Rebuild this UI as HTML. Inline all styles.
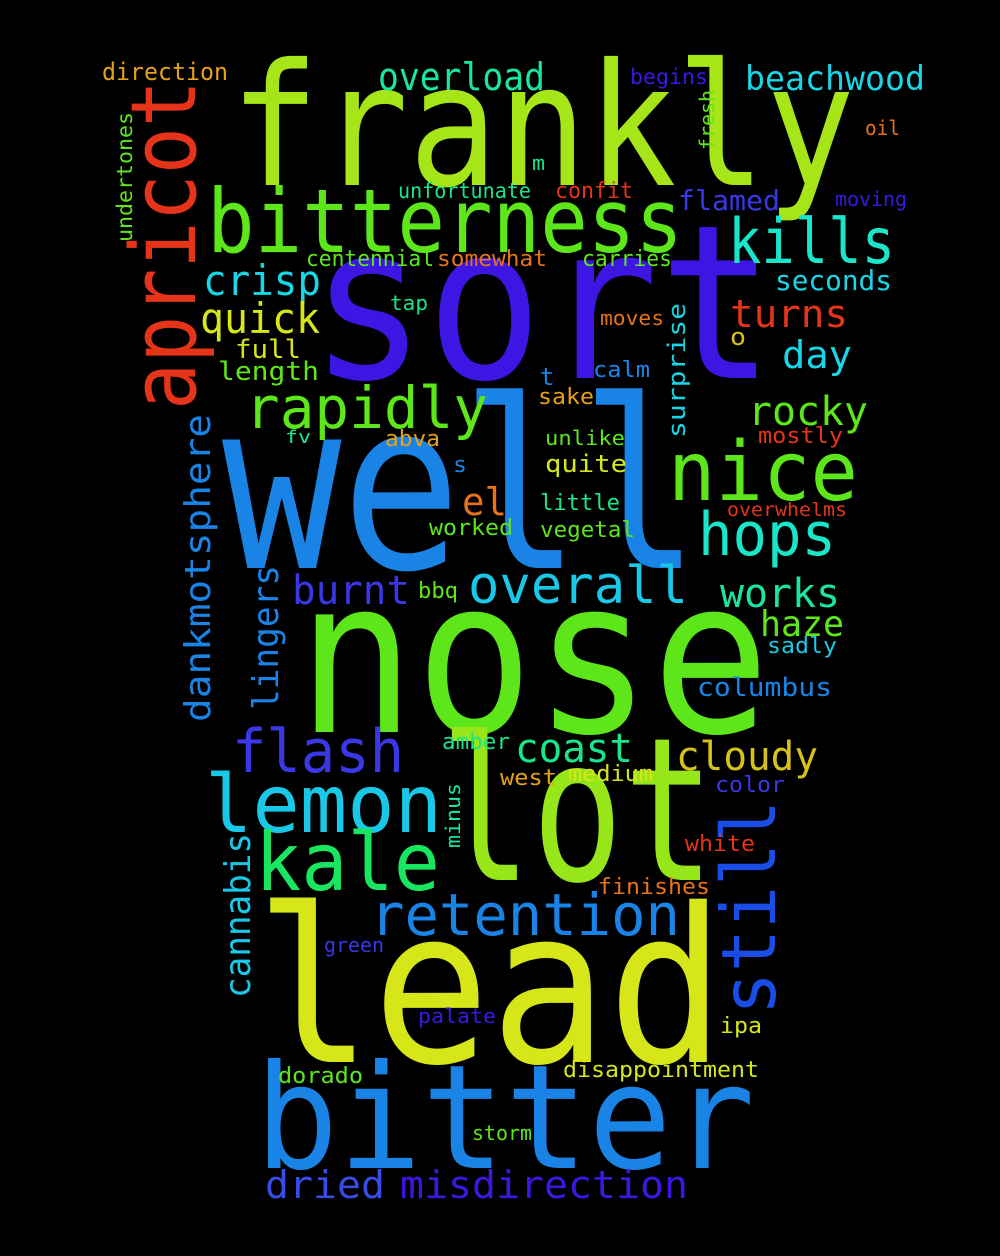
<!DOCTYPE html>
<html><head><meta charset="utf-8"><style>
html,body{margin:0;padding:0;background:#000;}
svg{display:block;}
text{font-family:"DejaVu Sans Mono","Liberation Mono",monospace;}
</style></head><body>
<svg width="1000" height="1256" viewBox="0 0 1000 1256" xmlns="http://www.w3.org/2000/svg">
<rect x="0" y="0" width="1000" height="1256" fill="#000"/>
<g lengthAdjust="spacingAndGlyphs">
<text x="230" y="185" font-size="170" textLength="625" lengthAdjust="spacingAndGlyphs" fill="#a6e619">frankly</text>
<text x="310" y="378" font-size="215" textLength="465" lengthAdjust="spacingAndGlyphs" fill="#3e16e4">sort</text>
<text x="222" y="568" font-size="235" textLength="478" lengthAdjust="spacingAndGlyphs" fill="#1a84e6">well</text>
<text x="297" y="732" font-size="215" textLength="473" lengthAdjust="spacingAndGlyphs" fill="#5de619">nose</text>
<text x="440" y="880" font-size="200" textLength="275" lengthAdjust="spacingAndGlyphs" fill="#96e619">lot</text>
<text x="255" y="1062" font-size="215" textLength="470" lengthAdjust="spacingAndGlyphs" fill="#d6e619">lead</text>
<text x="255" y="1168" font-size="145" textLength="500" lengthAdjust="spacingAndGlyphs" fill="#1a84e6">bitter</text>
<text x="207" y="252" font-size="88" textLength="476" lengthAdjust="spacingAndGlyphs" fill="#5de619">bitterness</text>
<text transform="translate(195,410) rotate(-90)" font-size="90" textLength="330" lengthAdjust="spacingAndGlyphs" fill="#e6341a">apricot</text>
<text x="378" y="90" font-size="38" textLength="167" lengthAdjust="spacingAndGlyphs" fill="#19e6a0">overload</text>
<text x="745" y="90" font-size="34" textLength="180" lengthAdjust="spacingAndGlyphs" fill="#19d6e6">beachwood</text>
<text x="102" y="80" font-size="24" textLength="126" lengthAdjust="spacingAndGlyphs" fill="#e6a019">direction</text>
<text x="630" y="84" font-size="21" textLength="78" lengthAdjust="spacingAndGlyphs" fill="#3e16e4">begins</text>
<text x="865" y="135" font-size="20" textLength="35" lengthAdjust="spacingAndGlyphs" fill="#e6721a">oil</text>
<text transform="translate(714,150) rotate(-90)" font-size="20" textLength="60" lengthAdjust="spacingAndGlyphs" fill="#5de619">fresh</text>
<text transform="translate(132,242) rotate(-90)" font-size="21" textLength="130" lengthAdjust="spacingAndGlyphs" fill="#5de619">undertones</text>
<text x="532" y="170" font-size="20" textLength="13" lengthAdjust="spacingAndGlyphs" fill="#19e68a">m</text>
<text x="398" y="198" font-size="21" textLength="133" lengthAdjust="spacingAndGlyphs" fill="#19e68a">unfortunate</text>
<text x="555" y="198" font-size="22" textLength="78" lengthAdjust="spacingAndGlyphs" fill="#e6341a">confit</text>
<text x="678" y="210" font-size="28" textLength="102" lengthAdjust="spacingAndGlyphs" fill="#3a38e6">flamed</text>
<text x="835" y="206" font-size="20" textLength="72" lengthAdjust="spacingAndGlyphs" fill="#3e16e4">moving</text>
<text x="728" y="263" font-size="62" textLength="167" lengthAdjust="spacingAndGlyphs" fill="#19e6c8">kills</text>
<text x="203" y="295" font-size="42" textLength="118" lengthAdjust="spacingAndGlyphs" fill="#19d6e6">crisp</text>
<text x="306" y="266" font-size="22" textLength="128" lengthAdjust="spacingAndGlyphs" fill="#5de619">centennial</text>
<text x="437" y="266" font-size="22" textLength="110" lengthAdjust="spacingAndGlyphs" fill="#e6721a">somewhat</text>
<text x="582" y="266" font-size="22" textLength="90" lengthAdjust="spacingAndGlyphs" fill="#5de619">carries</text>
<text x="775" y="290" font-size="28" textLength="117" lengthAdjust="spacingAndGlyphs" fill="#19d6e6">seconds</text>
<text x="200" y="333" font-size="42" textLength="120" lengthAdjust="spacingAndGlyphs" fill="#d6e619">quick</text>
<text x="390" y="310" font-size="20" textLength="38" lengthAdjust="spacingAndGlyphs" fill="#19e68a">tap</text>
<text x="600" y="325" font-size="20" textLength="64" lengthAdjust="spacingAndGlyphs" fill="#e6721a">moves</text>
<text x="730" y="327" font-size="38" textLength="118" lengthAdjust="spacingAndGlyphs" fill="#e6341a">turns</text>
<text transform="translate(685,438) rotate(-90)" font-size="24" textLength="135" lengthAdjust="spacingAndGlyphs" fill="#19d6e6">surprise</text>
<text x="730" y="345" font-size="24" textLength="16" lengthAdjust="spacingAndGlyphs" fill="#d6c219">o</text>
<text x="235" y="358" font-size="26" textLength="66" lengthAdjust="spacingAndGlyphs" fill="#d6e619">full</text>
<text x="782" y="368" font-size="38" textLength="70" lengthAdjust="spacingAndGlyphs" fill="#19d6e6">day</text>
<text x="218" y="380" font-size="26" textLength="101" lengthAdjust="spacingAndGlyphs" fill="#5de619">length</text>
<text x="245" y="428" font-size="58" textLength="243" lengthAdjust="spacingAndGlyphs" fill="#5de619">rapidly</text>
<text x="540" y="385" font-size="24" textLength="14" lengthAdjust="spacingAndGlyphs" fill="#1a84e6">t</text>
<text x="593" y="377" font-size="22" textLength="57" lengthAdjust="spacingAndGlyphs" fill="#1a84e6">calm</text>
<text x="538" y="404" font-size="22" textLength="56" lengthAdjust="spacingAndGlyphs" fill="#e6a019">sake</text>
<text x="748" y="425" font-size="40" textLength="120" lengthAdjust="spacingAndGlyphs" fill="#5de619">rocky</text>
<text transform="translate(210,722) rotate(-90)" font-size="36" textLength="308" lengthAdjust="spacingAndGlyphs" fill="#1a84e6">dankmotsphere</text>
<text x="285" y="443" font-size="18" textLength="26" lengthAdjust="spacingAndGlyphs" fill="#19e68a">fv</text>
<text x="385" y="446" font-size="22" textLength="55" lengthAdjust="spacingAndGlyphs" fill="#e6a019">abva</text>
<text x="545" y="445" font-size="20" textLength="80" lengthAdjust="spacingAndGlyphs" fill="#5de619">unlike</text>
<text x="758" y="443" font-size="22" textLength="85" lengthAdjust="spacingAndGlyphs" fill="#e6341a">mostly</text>
<text x="668" y="500" font-size="82" textLength="190" lengthAdjust="spacingAndGlyphs" fill="#5de619">nice</text>
<text x="453" y="472" font-size="22" textLength="14" lengthAdjust="spacingAndGlyphs" fill="#1a84e6">s</text>
<text x="545" y="472" font-size="24" textLength="82" lengthAdjust="spacingAndGlyphs" fill="#d6e619">quite</text>
<text x="462" y="515" font-size="38" textLength="45" lengthAdjust="spacingAndGlyphs" fill="#e6721a">el</text>
<text x="540" y="510" font-size="22" textLength="80" lengthAdjust="spacingAndGlyphs" fill="#19e68a">little</text>
<text x="727" y="516" font-size="19" textLength="120" lengthAdjust="spacingAndGlyphs" fill="#e6341a">overwhelms</text>
<text x="698" y="555" font-size="60" textLength="138" lengthAdjust="spacingAndGlyphs" fill="#19e6c8">hops</text>
<text x="429" y="535" font-size="22" textLength="84" lengthAdjust="spacingAndGlyphs" fill="#5de619">worked</text>
<text x="540" y="537" font-size="22" textLength="95" lengthAdjust="spacingAndGlyphs" fill="#5de619">vegetal</text>
<text x="468" y="603" font-size="52" textLength="220" lengthAdjust="spacingAndGlyphs" fill="#19c8e6">overall</text>
<text x="292" y="604" font-size="40" textLength="118" lengthAdjust="spacingAndGlyphs" fill="#3a38e6">burnt</text>
<text transform="translate(278,710) rotate(-90)" font-size="36" textLength="145" lengthAdjust="spacingAndGlyphs" fill="#1a84e6">lingers</text>
<text x="418" y="598" font-size="22" textLength="40" lengthAdjust="spacingAndGlyphs" fill="#5de619">bbq</text>
<text x="720" y="607" font-size="40" textLength="120" lengthAdjust="spacingAndGlyphs" fill="#19e6a0">works</text>
<text x="760" y="636" font-size="36" textLength="84" lengthAdjust="spacingAndGlyphs" fill="#5de619">haze</text>
<text x="767" y="653" font-size="22" textLength="70" lengthAdjust="spacingAndGlyphs" fill="#19c8e6">sadly</text>
<text x="697" y="696" font-size="26" textLength="135" lengthAdjust="spacingAndGlyphs" fill="#1a84e6">columbus</text>
<text x="232" y="772" font-size="60" textLength="172" lengthAdjust="spacingAndGlyphs" fill="#3a38e6">flash</text>
<text x="442" y="749" font-size="22" textLength="68" lengthAdjust="spacingAndGlyphs" fill="#19e68a">amber</text>
<text x="515" y="762" font-size="40" textLength="118" lengthAdjust="spacingAndGlyphs" fill="#19e68a">coast</text>
<text x="676" y="770" font-size="40" textLength="142" lengthAdjust="spacingAndGlyphs" fill="#d6c219">cloudy</text>
<text x="205" y="832" font-size="80" textLength="237" lengthAdjust="spacingAndGlyphs" fill="#19c8e6">lemon</text>
<text x="500" y="785" font-size="22" textLength="57" lengthAdjust="spacingAndGlyphs" fill="#e6a019">west</text>
<text x="568" y="781" font-size="22" textLength="85" lengthAdjust="spacingAndGlyphs" fill="#d6e619">medium</text>
<text x="715" y="792" font-size="22" textLength="70" lengthAdjust="spacingAndGlyphs" fill="#3a38e6">color</text>
<text transform="translate(460,848) rotate(-90)" font-size="20" textLength="65" lengthAdjust="spacingAndGlyphs" fill="#19e6a0">minus</text>
<text x="255" y="890" font-size="80" textLength="185" lengthAdjust="spacingAndGlyphs" fill="#19e660">kale</text>
<text transform="translate(775,1015) rotate(-90)" font-size="75" textLength="215" lengthAdjust="spacingAndGlyphs" fill="#1a4ce6">still</text>
<text transform="translate(250,998) rotate(-90)" font-size="36" textLength="165" lengthAdjust="spacingAndGlyphs" fill="#19c8e6">cannabis</text>
<text x="685" y="851" font-size="22" textLength="70" lengthAdjust="spacingAndGlyphs" fill="#e6341a">white</text>
<text x="598" y="894" font-size="22" textLength="112" lengthAdjust="spacingAndGlyphs" fill="#e6721a">finishes</text>
<text x="370" y="935" font-size="58" textLength="310" lengthAdjust="spacingAndGlyphs" fill="#1a84e6">retention</text>
<text x="324" y="952" font-size="20" textLength="60" lengthAdjust="spacingAndGlyphs" fill="#3a38e6">green</text>
<text x="418" y="1023" font-size="20" textLength="78" lengthAdjust="spacingAndGlyphs" fill="#3e16e4">palate</text>
<text x="720" y="1033" font-size="22" textLength="42" lengthAdjust="spacingAndGlyphs" fill="#d6e619">ipa</text>
<text x="278" y="1083" font-size="22" textLength="85" lengthAdjust="spacingAndGlyphs" fill="#5de619">dorado</text>
<text x="563" y="1077" font-size="22" textLength="196" lengthAdjust="spacingAndGlyphs" fill="#d6e619">disappointment</text>
<text x="472" y="1140" font-size="20" textLength="60" lengthAdjust="spacingAndGlyphs" fill="#5de619">storm</text>
<text x="265" y="1198" font-size="38" textLength="120" lengthAdjust="spacingAndGlyphs" fill="#3a4ce6">dried</text>
<text x="400" y="1198" font-size="38" textLength="288" lengthAdjust="spacingAndGlyphs" fill="#3e16e4">misdirection</text>
</g>
</svg>
</body></html>
